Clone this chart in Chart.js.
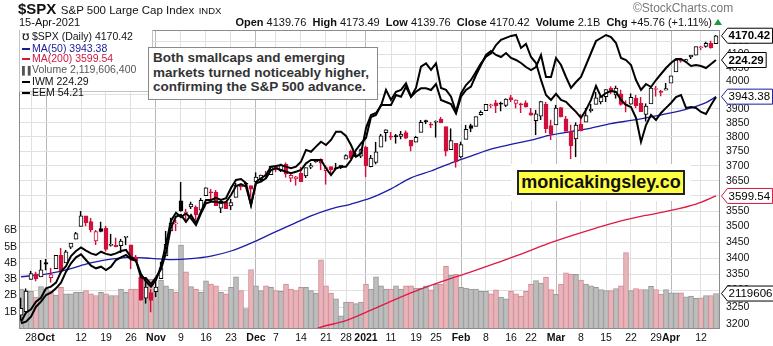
<!DOCTYPE html>
<html>
<head>
<meta charset="utf-8">
<script src="https://cdn.jsdelivr.net/npm/chart.js@4.4.0/dist/chart.umd.min.js"></script>
<style>
  body { margin: 0; background: #fff; }
  #wrap { position: relative; width: 773px; height: 346px; overflow: hidden; font-family: "Liberation Sans", Arial, sans-serif; color: #111; }
  #wrap canvas { position: absolute; left: 0; top: 0; }
  .abs { position: absolute; white-space: nowrap; }
  #legend { left: 19px; top: 30px; width: 134px; height: 62px; background: #fff; border: 1px solid #c4c4c4; border-top: none; font-size: 10.5px; line-height: 10.5px; padding: 1px 0 0 2px; box-sizing: border-box; }
  #legend .ic { display: inline-block; width: 8px; height: 2px; vertical-align: middle; margin-right: 2px; }
  #note { left: 148px; top: 47px; width: 230px; height: 53px; box-sizing: border-box; background: #fff; border: 1px solid #8a8a8a; padding: 3px 4px; font-size: 13.5px; font-weight: bold; line-height: 14.5px; color: #333; }
  #halo { left: 511px; top: 164px; width: 180px; height: 37px; background: #fff; }
  #brand { left: 517px; top: 170px; width: 168px; height: 25px; box-sizing: border-box; background: #ffff44; border: 2px solid #222; font-size: 18px; font-weight: bold; line-height: 21px; text-align: center; color: #111; }
</style>
</head>
<body>
<div id="wrap">
  <canvas id="chart" width="773" height="346"></canvas>
  <div class="abs" style="left:18px;top:0;line-height:17px;"><b style="font-size:15px;">$SPX</b> <span style="font-size:11.5px;">S&amp;P 500 Large Cap Index</span> <span style="font-size:9.5px;">INDX</span></div>
  <div class="abs" style="left:19px;top:14px;line-height:16px;font-size:11px;">15-Apr-2021</div>
  <div class="abs" style="right:61px;top:14px;line-height:16px;font-size:11px;"><b>Open</b> 4139.76 &nbsp;<b>High</b> 4173.49 &nbsp;<b>Low</b> 4139.76 &nbsp;<b>Close</b> 4170.42 &nbsp;<b>Volume</b> 2.1B &nbsp;<b>Chg</b> +45.76 (+1.11%)</div>
  <div class="abs" style="left:714px;top:19px;width:0;height:0;border-left:4px solid transparent;border-right:4px solid transparent;border-bottom:6px solid #1a9a3a;"></div>
  <div class="abs" style="left:633px;top:0;line-height:17px;font-size:12px;color:#777;">&copy;StockCharts.com</div>
  <div id="legend" class="abs"></div>
  <div id="note" class="abs">Both smallcaps and emerging<br>markets turned noticeably higher,<br>confirming the S&amp;P 500 advance.</div>
  <div id="halo" class="abs"></div>
  <div id="brand" class="abs">monicakingsley.co</div>
</div>
<script>
// Trading days shown on the chart
const dates = [
  '2020-09-24','2020-09-25','2020-09-28','2020-09-29','2020-09-30','2020-10-01','2020-10-02',
  '2020-10-05','2020-10-06','2020-10-07','2020-10-08','2020-10-09',
  '2020-10-12','2020-10-13','2020-10-14','2020-10-15','2020-10-16',
  '2020-10-19','2020-10-20','2020-10-21','2020-10-22','2020-10-23',
  '2020-10-26','2020-10-27','2020-10-28','2020-10-29','2020-10-30',
  '2020-11-02','2020-11-03','2020-11-04','2020-11-05','2020-11-06',
  '2020-11-09','2020-11-10','2020-11-11','2020-11-12','2020-11-13',
  '2020-11-16','2020-11-17','2020-11-18','2020-11-19','2020-11-20',
  '2020-11-23','2020-11-24','2020-11-25','2020-11-27',
  '2020-11-30','2020-12-01','2020-12-02','2020-12-03','2020-12-04',
  '2020-12-07','2020-12-08','2020-12-09','2020-12-10','2020-12-11',
  '2020-12-14','2020-12-15','2020-12-16','2020-12-17','2020-12-18',
  '2020-12-21','2020-12-22','2020-12-23','2020-12-24',
  '2020-12-28','2020-12-29','2020-12-30','2020-12-31',
  '2021-01-04','2021-01-05','2021-01-06','2021-01-07','2021-01-08',
  '2021-01-11','2021-01-12','2021-01-13','2021-01-14','2021-01-15',
  '2021-01-19','2021-01-20','2021-01-21','2021-01-22',
  '2021-01-25','2021-01-26','2021-01-27','2021-01-28','2021-01-29',
  '2021-02-01','2021-02-02','2021-02-03','2021-02-04','2021-02-05',
  '2021-02-08','2021-02-09','2021-02-10','2021-02-11','2021-02-12',
  '2021-02-16','2021-02-17','2021-02-18','2021-02-19',
  '2021-02-22','2021-02-23','2021-02-24','2021-02-25','2021-02-26',
  '2021-03-01','2021-03-02','2021-03-03','2021-03-04','2021-03-05',
  '2021-03-08','2021-03-09','2021-03-10','2021-03-11','2021-03-12',
  '2021-03-15','2021-03-16','2021-03-17','2021-03-18','2021-03-19',
  '2021-03-22','2021-03-23','2021-03-24','2021-03-25','2021-03-26',
  '2021-03-29','2021-03-30','2021-03-31','2021-04-01',
  '2021-04-05','2021-04-06','2021-04-07','2021-04-08','2021-04-09',
  '2021-04-12','2021-04-13','2021-04-14','2021-04-15'
];

// $SPX daily prices
const open = [
  3226.14, 3236.66, 3333.90, 3350.92, 3341.21, 3385.87, 3338.94, 3367.27, 3408.74, 3384.56,
  3434.28, 3459.67, 3500.02, 3534.01, 3515.47, 3453.72, 3493.50, 3493.66, 3439.38, 3439.91,
  3438.50, 3464.90, 3441.42, 3403.15, 3342.48, 3277.17, 3293.59, 3296.20, 3336.25, 3406.46,
  3485.74, 3508.34, 3583.04, 3543.26, 3563.22, 3562.67, 3552.57, 3600.16, 3610.31, 3612.09,
  3559.41, 3579.31, 3566.82, 3594.52, 3635.50, 3638.55, 3634.18, 3645.87, 3653.78, 3668.28,
  3670.94, 3694.73, 3683.05, 3705.98, 3659.13, 3656.08, 3675.27, 3666.41, 3696.25, 3713.65,
  3722.39, 3684.28, 3698.08, 3693.42, 3694.03, 3723.03, 3750.01, 3736.19, 3733.27, 3764.61,
  3698.02, 3712.20, 3764.71, 3815.05, 3803.14, 3801.62, 3802.23, 3814.98, 3788.73, 3781.88,
  3816.22, 3857.46, 3844.24, 3851.68, 3862.96, 3836.83, 3755.75, 3778.05, 3731.17, 3791.84,
  3840.27, 3836.66, 3878.30, 3892.59, 3910.49, 3920.78, 3916.40, 3911.65, 3939.61, 3918.50,
  3915.86, 3921.16, 3885.55, 3857.07, 3873.71, 3915.80, 3839.66, 3842.51, 3903.64, 3863.99,
  3818.53, 3793.58, 3844.39, 3851.69, 3891.99, 3915.54, 3924.52, 3942.96, 3973.59, 3949.57,
  3953.50, 3913.14, 3916.48, 3937.60, 3919.93, 3879.34, 3917.12, 3969.31, 3963.34, 3967.25,
  3992.78, 4034.44, 4075.57, 4074.29, 4089.95, 4096.11, 4124.71, 4130.10, 4141.58, 4139.76
];
const high = [
  3278.70, 3306.88, 3360.74, 3357.92, 3393.56, 3397.18, 3369.10, 3409.57, 3431.56, 3426.26,
  3447.28, 3482.34, 3549.85, 3534.01, 3527.94, 3489.08, 3515.76, 3502.42, 3476.93, 3464.86,
  3460.53, 3466.46, 3441.42, 3409.51, 3342.48, 3341.05, 3304.93, 3330.14, 3389.49, 3486.25,
  3529.05, 3521.58, 3645.99, 3557.22, 3581.16, 3569.02, 3593.66, 3628.51, 3623.11, 3619.09,
  3585.22, 3581.23, 3589.81, 3642.31, 3635.50, 3644.31, 3634.18, 3678.45, 3670.96, 3682.73,
  3699.20, 3697.41, 3708.45, 3712.39, 3678.49, 3665.91, 3697.61, 3695.29, 3711.27, 3725.12,
  3726.70, 3702.90, 3698.26, 3711.24, 3703.82, 3740.51, 3756.12, 3744.63, 3760.20, 3769.99,
  3737.83, 3783.04, 3811.55, 3826.69, 3817.86, 3810.78, 3820.96, 3823.60, 3788.73, 3804.53,
  3859.75, 3861.45, 3852.31, 3859.23, 3870.90, 3836.83, 3830.50, 3778.05, 3784.32, 3843.09,
  3847.51, 3872.42, 3894.56, 3915.77, 3918.35, 3931.50, 3925.99, 3937.23, 3950.43, 3933.61,
  3921.98, 3930.41, 3902.92, 3895.98, 3928.65, 3925.02, 3861.08, 3914.50, 3906.41, 3874.47,
  3843.67, 3851.69, 3881.06, 3903.76, 3917.35, 3960.27, 3944.99, 3970.08, 3981.04, 3983.87,
  3969.62, 3930.12, 3955.31, 3949.13, 3942.08, 3919.54, 3978.19, 3981.83, 3968.01, 3994.41,
  4020.63, 4083.42, 4086.23, 4083.13, 4098.19, 4129.48, 4131.76, 4148.00, 4151.69, 4173.49
];
const low = [
  3209.45, 3228.44, 3332.91, 3327.54, 3340.47, 3361.39, 3323.69, 3367.27, 3354.54, 3384.56,
  3428.15, 3458.07, 3499.61, 3500.86, 3480.55, 3440.89, 3480.45, 3419.93, 3435.65, 3433.06,
  3415.34, 3440.45, 3364.86, 3388.71, 3268.89, 3259.82, 3233.94, 3279.74, 3336.25, 3405.17,
  3485.74, 3484.34, 3547.48, 3511.91, 3557.00, 3518.58, 3552.57, 3600.16, 3588.68, 3567.33,
  3543.84, 3556.85, 3552.77, 3594.52, 3617.76, 3629.33, 3594.39, 3645.87, 3644.84, 3657.17,
  3670.94, 3678.88, 3678.83, 3660.54, 3645.18, 3633.40, 3645.84, 3659.62, 3688.57, 3710.87,
  3685.84, 3636.48, 3676.16, 3689.28, 3689.32, 3723.03, 3723.31, 3730.21, 3726.88, 3662.71,
  3695.07, 3705.34, 3764.71, 3783.60, 3789.02, 3776.51, 3791.50, 3792.86, 3749.62, 3780.37,
  3816.22, 3845.05, 3830.41, 3797.16, 3847.78, 3732.48, 3755.75, 3694.12, 3725.62, 3791.84,
  3816.68, 3836.66, 3874.93, 3892.59, 3902.64, 3884.94, 3890.39, 3905.78, 3923.85, 3900.43,
  3885.03, 3903.07, 3874.71, 3805.59, 3859.60, 3814.04, 3789.54, 3842.51, 3868.57, 3818.86,
  3723.34, 3730.19, 3819.25, 3851.69, 3885.73, 3915.54, 3915.21, 3923.54, 3953.44, 3935.74,
  3910.86, 3886.75, 3914.16, 3901.57, 3889.07, 3853.50, 3917.12, 3943.25, 3944.35, 3966.98,
  3992.78, 4034.44, 4068.14, 4068.31, 4082.54, 4095.51, 4114.82, 4124.43, 4120.87, 4139.76
];
const close = [
  3246.59, 3298.46, 3351.60, 3335.47, 3363.00, 3380.80, 3348.42, 3408.60, 3360.97, 3419.44,
  3446.83, 3477.14, 3534.22, 3511.93, 3488.67, 3483.34, 3483.81, 3426.92, 3443.12, 3435.56,
  3453.49, 3465.39, 3400.97, 3390.68, 3271.03, 3310.11, 3269.96, 3310.24, 3369.16, 3443.44,
  3510.45, 3509.44, 3550.50, 3545.53, 3572.66, 3537.01, 3585.15, 3626.91, 3609.53, 3567.79,
  3581.87, 3557.54, 3577.59, 3635.41, 3629.65, 3638.35, 3621.63, 3662.45, 3669.01, 3666.72,
  3699.12, 3691.96, 3702.25, 3672.82, 3668.10, 3663.46, 3647.49, 3694.62, 3701.17, 3722.48,
  3709.41, 3694.92, 3687.26, 3690.01, 3703.06, 3735.36, 3727.04, 3732.04, 3756.07, 3700.65,
  3726.86, 3748.14, 3803.79, 3824.68, 3799.61, 3801.19, 3809.84, 3795.54, 3768.25, 3798.91,
  3851.85, 3853.07, 3841.47, 3855.36, 3849.62, 3750.77, 3787.38, 3714.24, 3773.86, 3826.31,
  3830.17, 3871.74, 3886.83, 3915.59, 3911.23, 3909.88, 3916.38, 3934.83, 3932.59, 3931.33,
  3913.97, 3906.71, 3876.50, 3881.37, 3925.43, 3829.34, 3811.15, 3901.82, 3870.29, 3819.72,
  3768.47, 3841.94, 3821.35, 3875.44, 3898.81, 3939.34, 3943.34, 3968.94, 3962.71, 3974.12,
  3915.46, 3913.10, 3940.59, 3910.52, 3889.14, 3909.52, 3974.54, 3971.09, 3958.55, 3972.89,
  4019.87, 4077.91, 4073.94, 4079.95, 4097.17, 4128.80, 4127.99, 4141.59, 4124.66, 4170.42
];

// Volume in millions of shares
const volume = [
  2400, 2300, 2250, 1900, 2550, 2400, 2270, 2030, 2500, 2100,
  2100, 2200, 2200, 2300, 2100, 2000, 2200, 2100, 2000, 2000,
  2400, 2200, 2400, 2400, 3100, 2950, 3000, 2400, 2950, 2600,
  2400, 2200, 5100, 3450, 2550, 2400, 2200, 2900, 2700, 2600,
  2200, 2100, 2500, 3150, 2300, 1200, 3600, 2600, 2300, 2600,
  2500, 2300, 2250, 2700, 2400, 2300, 2500, 2500, 2300, 2150,
  4200, 2600, 2150, 1800, 750, 1600, 1600, 1500, 1600, 2700,
  2400, 3150, 2600, 2400, 2400, 2600, 2400, 2600, 2600, 2450,
  2450, 2600, 2350, 2700, 2700, 3800, 3250, 3300, 2500, 2450,
  2400, 2400, 2250, 2250, 2100, 2350, 1900, 1800, 2250, 2100,
  1960, 2250, 2680, 2920, 2760, 3130, 2370, 2070, 2700, 3400,
  3300, 3300, 2940, 2700, 2600, 2500, 2370, 2300, 2300, 2430,
  2600, 4640, 2300, 2430, 2370, 2370, 2570, 2370, 2080, 2370,
  2170, 2170, 2170, 1920, 1960, 1820, 1860, 2000, 2000, 2119.6064
];

// Moving averages, read at the dates listed
const ma50Dates = [
  '2020-09-24','2020-10-01','2020-10-07','2020-10-13','2020-10-19','2020-10-26','2020-10-30',
  '2020-11-05','2020-11-11','2020-11-17','2020-11-23','2020-11-30','2020-12-04','2020-12-10',
  '2020-12-16','2020-12-22','2020-12-29','2021-01-05','2021-01-11','2021-01-15','2021-01-22',
  '2021-01-28','2021-02-03','2021-02-09','2021-02-16','2021-02-22','2021-02-26','2021-03-04',
  '2021-03-10','2021-03-16','2021-03-22','2021-03-26','2021-04-01','2021-04-08','2021-04-13',
  '2021-04-15'
];
const ma50Values = [
  3342, 3350, 3363, 3381, 3394, 3402, 3399,
  3395, 3398, 3406, 3422, 3447, 3476, 3505,
  3534, 3557, 3573, 3593, 3623, 3660, 3683,
  3710, 3734, 3758, 3774, 3789, 3807, 3819,
  3831, 3847, 3858, 3871, 3885, 3903, 3922,
  3943.38
];
const ma200Dates = [
  '2020-12-16','2020-12-18','2020-12-28','2021-01-05','2021-01-12','2021-01-20','2021-01-27',
  '2021-02-03','2021-02-10','2021-02-18','2021-02-25','2021-03-04','2021-03-11','2021-03-18',
  '2021-03-25','2021-04-01','2021-04-09','2021-04-15'
];
const ma200Values = [
  3179, 3191, 3210, 3241, 3274, 3305, 3332,
  3357, 3384, 3412, 3443, 3470, 3495, 3518,
  3536, 3552, 3573, 3599.54
];

// Overlaid comparison symbols
const iwm = [
  145.30, 145.78, 147.28, 150.28, 151.78, 153.79, 154.48, 155.80, 157.48, 160.78,
  163.30, 165.10, 166.00, 164.29, 162.58, 161.80, 162.28, 161.29, 162.28, 164.29,
  165.10, 165.79, 164.50, 164.08, 160.09, 157.78, 156.28, 158.29, 162.49, 169.09,
  176.08, 178.48, 177.10, 178.30, 176.80, 174.79, 178.30, 181.30, 181.78, 181.78,
  181.39, 181.69, 183.79, 186.49, 187.09, 186.28, 180.79, 187.30, 187.78, 188.80,
  191.29, 191.80, 191.29, 190.78, 190.30, 190.78, 191.29, 193.30, 194.29, 194.29,
  194.29, 191.80, 189.79, 191.80, 192.28, 192.28, 194.29, 197.29, 199.30, 200.89,
  207.19, 207.79, 210.79, 210.79, 210.79, 213.79, 213.28, 216.28, 213.28, 214.78,
  215.80, 215.80, 215.29, 217.09, 212.29, 211.69, 211.09, 208.30, 213.28, 215.29,
  216.28, 219.79, 222.79, 225.79, 226.99, 225.79, 225.19, 226.39, 224.89, 224.29,
  223.39, 222.19, 221.29, 222.19, 225.79, 219.19, 219.19, 224.89, 222.79, 219.19,
  215.89, 217.69, 219.19, 222.79, 226.39, 229.99, 230.89, 231.79, 231.19, 229.39,
  224.89, 224.29, 222.79, 218.29, 215.29, 217.09, 216.19, 218.29, 220.09, 221.89,
  223.39, 224.59, 224.59, 223.69, 222.49, 222.79, 222.49, 221.89, 223.09, 224.29
];
const eem = [
  41.85, 42.35, 42.53, 42.95, 43.17, 43.69, 43.78, 44.00, 44.60, 44.91,
  45.46, 45.74, 45.94, 45.76, 45.61, 45.52, 45.70, 45.58, 45.52, 45.61,
  45.74, 45.80, 45.39, 45.21, 44.29, 44.24, 43.92, 44.29, 44.73, 45.65,
  47.04, 47.63, 47.72, 47.35, 47.72, 47.26, 47.90, 48.55, 48.55, 48.66,
  48.55, 48.64, 49.20, 49.65, 49.70, 49.48, 48.27, 49.55, 49.74, 49.92,
  50.38, 50.42, 50.47, 50.38, 50.29, 50.38, 50.65, 51.30, 51.20, 51.48,
  51.75, 51.57, 51.85, 52.30, 52.30, 52.07, 51.57, 50.93, 51.11, 52.50,
  53.22, 53.33, 53.72, 54.60, 54.05, 54.50, 54.60, 54.96, 54.23, 54.71,
  55.88, 56.06, 55.70, 56.06, 54.71, 54.60, 54.23, 53.40, 54.41, 54.87,
  55.15, 55.60, 56.06, 56.43, 56.61, 57.07, 57.35, 57.46, 57.57, 57.62,
  56.91, 57.13, 56.41, 56.08, 55.15, 54.32, 54.05, 54.38, 54.05, 53.94,
  53.66, 53.39, 53.06, 53.50, 54.05, 54.82, 54.21, 54.43, 54.54, 54.49,
  54.05, 53.77, 53.66, 53.06, 51.74, 52.67, 53.22, 52.95, 53.33, 53.61,
  53.88, 54.21, 54.32, 53.61, 53.66, 53.61, 53.39, 53.28, 53.77, 54.21
];

// Axis ticks
const tickDates = [
  '2020-09-28','2020-10-01','2020-10-12','2020-10-19','2020-10-26','2020-11-02','2020-11-09',
  '2020-11-16','2020-11-23','2020-12-01','2020-12-07','2020-12-14','2020-12-21','2020-12-28',
  '2021-01-04','2021-01-11','2021-01-19','2021-01-25','2021-02-01','2021-02-08','2021-02-16',
  '2021-02-22','2021-03-01','2021-03-08','2021-03-15','2021-03-22','2021-03-29','2021-04-01',
  '2021-04-12'
];
const tickLabels = [
  '28','Oct','12','19','26','Nov','9','16','23','Dec','7','14','21','28',
  '2021','11','19','25','Feb','8','16','22','Mar','8','15','22','29','Apr','12'
];
const monthLabels = ['Oct', 'Nov', 'Dec', '2021', 'Feb', 'Mar', 'Apr'];
const priceTicks = [3200, 3250, 3300, 3350, 3400, 3450, 3500, 3550, 3600, 3650, 3700, 3750,
  3800, 3850, 3900, 3950, 4000, 4050, 4100, 4150];
const volumeTicks = [1000, 2000, 3000, 4000, 5000, 6000];

const RED = '#d0103a';
const BLACK = '#000000';
const FONT = '"Liberation Sans", Arial, sans-serif';
const last = dates.length - 1;

// Candle colours: red when close is below the prior close
const candleColors = close.map((c, i) => (i > 0 && c < close[i - 1]) ? RED : BLACK);
const bodyFill = close.map((c, i) => c >= open[i] ? '#ffffff' : candleColors[i]);
const volFill = close.map((c, i) => (i > 0 && c < close[i - 1]) ? '#e8b4ba' : '#bdbdbd');
const volBorder = close.map((c, i) => (i > 0 && c < close[i - 1]) ? '#d48894' : '#979797');

const tickIndex = tickDates.map(d => dates.indexOf(d));
const labelAt = {};
tickIndex.forEach((idx, k) => { labelAt[idx] = tickLabels[k]; });
const isMonthTick = v => monthLabels.includes(labelAt[v]);

// Legend box
const fmt = v => v.toFixed(2);
document.getElementById('legend').innerHTML =
  '<div><span style="display:inline-block;width:7px;font-size:9px;font-weight:bold;">&#8487;</span> $SPX (Daily) ' + fmt(close[last]) + '</div>' +
  '<div style="color:#1a1a9c"><span class="ic" style="background:#1a1a9c"></span>MA(50) ' + fmt(ma50Values[ma50Values.length - 1]) + '</div>' +
  '<div style="color:#d01840"><span class="ic" style="background:#d01840"></span>MA(200) ' + fmt(ma200Values[ma200Values.length - 1]) + '</div>' +
  '<div style="color:#555"><span style="display:inline-block;width:8px;font-size:8px;margin-right:2px;">&#9612;&#9612;</span>Volume ' + Math.round(volume[last] * 1e6).toLocaleString('en-US') + '</div>' +
  '<div><span class="ic" style="background:#000"></span>IWM ' + fmt(iwm[last]) + '</div>' +
  '<div><span class="ic" style="background:#000"></span>EEM ' + fmt(eem[last]) + '</div>';

function drawTag(ctx, x, y, text, border, bold) {
  ctx.font = (bold ? 'bold ' : '') + '11.5px ' + FONT;
  const w = ctx.measureText(text).width;
  ctx.beginPath();
  ctx.moveTo(x + 0.5, y);
  ctx.lineTo(x + 6.5, y - 7.5);
  ctx.lineTo(x + 10 + w, y - 7.5);
  ctx.lineTo(x + 10 + w, y + 7.5);
  ctx.lineTo(x + 6.5, y + 7.5);
  ctx.closePath();
  ctx.fillStyle = '#fff';
  ctx.fill();
  ctx.strokeStyle = border;
  ctx.lineWidth = 1;
  ctx.stroke();
  ctx.fillStyle = '#000';
  ctx.textBaseline = 'middle';
  ctx.textAlign = 'left';
  ctx.fillText(text, x + 7.5, y + 0.5);
}

const framePlugin = {
  id: 'frameAndTags',
  afterDraw(chart) {
    const { ctx, chartArea: a, scales } = chart;
    ctx.save();
    ctx.strokeStyle = '#8c8c8c';
    ctx.lineWidth = 1;
    ctx.strokeRect(a.left + 0.5, a.top + 0.5, a.right - a.left - 1, a.bottom - a.top);
    const x = a.right + 1;
    drawTag(ctx, x, scales.y.getPixelForValue(close[last]), fmt(close[last]), '#000', true);
    drawTag(ctx, x, scales.yIwm.getPixelForValue(iwm[last]), fmt(iwm[last]), '#000', true);
    drawTag(ctx, x, scales.y.getPixelForValue(ma50Values[ma50Values.length - 1]), fmt(ma50Values[ma50Values.length - 1]), '#1a1a9c', false);
    drawTag(ctx, x, scales.y.getPixelForValue(ma200Values[ma200Values.length - 1]), fmt(ma200Values[ma200Values.length - 1]), '#d01840', false);
    drawTag(ctx, x, scales.yVol.getPixelForValue(volume[last]), String(Math.round(volume[last] * 1000)), '#000', false);
    ctx.restore();
  }
};

new Chart(document.getElementById('chart'), {
  type: 'bar',
  data: {
    datasets: [
      {
        label: 'Volume',
        yAxisID: 'yVol',
        data: volume.map((v, i) => ({ x: i, y: v })),
        backgroundColor: volFill,
        borderColor: volBorder,
        borderWidth: 1,
        barPercentage: 1,
        categoryPercentage: 1,
        grouped: false,
        order: 10
      },
      {
        type: 'line',
        label: 'MA(200)',
        yAxisID: 'y',
        data: ma200Dates.map((d, k) => ({ x: dates.indexOf(d), y: ma200Values[k] })),
        borderColor: '#dc1a44',
        borderWidth: 1.3,
        pointRadius: 0,
        tension: 0.3,
        order: 6
      },
      {
        type: 'line',
        label: 'MA(50)',
        yAxisID: 'y',
        data: ma50Dates.map((d, k) => ({ x: dates.indexOf(d), y: ma50Values[k] })),
        borderColor: '#1c1ca6',
        borderWidth: 1.3,
        pointRadius: 0,
        tension: 0.3,
        order: 5
      },
      {
        label: 'Wick',
        yAxisID: 'y',
        data: low.map((l, i) => ({ x: i, y: [l, high[i]] })),
        backgroundColor: 'rgba(0,0,0,0)',
        borderColor: candleColors,
        borderWidth: { left: 1, right: 0, top: 0, bottom: 0 },
        borderSkipped: false,
        barThickness: 2,
        grouped: false,
        order: 4
      },
      {
        label: '$SPX',
        yAxisID: 'y',
        data: open.map((o, i) => ({ x: i, y: [o, close[i]] })),
        backgroundColor: bodyFill,
        borderColor: candleColors,
        borderWidth: 1,
        borderSkipped: false,
        barThickness: 4,
        minBarLength: 1,
        grouped: false,
        order: 3
      },
      {
        type: 'line',
        label: 'IWM',
        yAxisID: 'yIwm',
        data: iwm.map((v, i) => ({ x: i, y: v })),
        borderColor: '#000',
        borderWidth: 2,
        pointRadius: 0,
        order: 2
      },
      {
        type: 'line',
        label: 'EEM',
        yAxisID: 'yEem',
        data: eem.map((v, i) => ({ x: i, y: v })),
        borderColor: '#000',
        borderWidth: 2,
        pointRadius: 0,
        order: 1
      }
    ]
  },
  options: {
    responsive: false,
    animation: false,
    devicePixelRatio: 1,
    layout: { padding: { top: 30 } },
    plugins: { legend: { display: false }, tooltip: { enabled: false } },
    scales: {
      x: {
        type: 'linear',
        min: -0.4,
        max: 139.8,
        offset: false,
        afterBuildTicks: s => { s.ticks = tickIndex.map(v => ({ value: v })); },
        afterFit: s => { s.height = 18; },
        grid: {
          offset: false,
          drawTicks: false,
          color: ctx => isMonthTick(ctx.tick && ctx.tick.value) ? '#b8b8b8' : '#e0e0e0'
        },
        border: { display: false },
        ticks: {
          autoSkip: false,
          maxRotation: 0,
          padding: 4,
          color: '#111',
          font: ctx => ({ family: FONT, size: 10.5, weight: isMonthTick(ctx.tick && ctx.tick.value) ? 'bold' : 'normal' }),
          callback: v => labelAt[v] || ''
        }
      },
      y: {
        type: 'logarithmic',
        position: 'right',
        min: 3188.3,
        max: 4192.4,
        afterBuildTicks: s => { s.ticks = priceTicks.map(v => ({ value: v })); },
        afterFit: s => { s.width = 53; },
        grid: { drawTicks: false, color: '#e0e0e0' },
        border: { display: false },
        ticks: { autoSkip: false, padding: 6, color: '#111', font: { family: FONT, size: 10.5 }, callback: v => String(v) }
      },
      yVol: {
        type: 'linear',
        position: 'left',
        min: 0,
        max: 18330,
        afterBuildTicks: s => { s.ticks = volumeTicks.map(v => ({ value: v })); },
        afterFit: s => { s.width = 19; },
        grid: { display: false, drawTicks: false },
        border: { display: false },
        ticks: { autoSkip: false, padding: 2, color: '#111', font: { family: FONT, size: 10.5 }, callback: v => (v / 1000) + 'B' }
      },
      yIwm: { type: 'linear', display: false, min: 143.89, max: 233.29 },
      yEem: { type: 'linear', display: false, min: 41.505, max: 57.895 }
    }
  },
  plugins: [framePlugin]
});
</script>
</body>
</html>
